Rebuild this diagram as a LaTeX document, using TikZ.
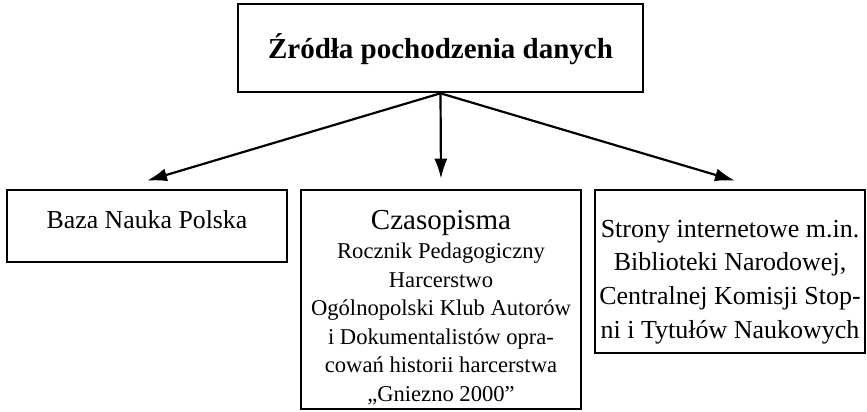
\documentclass[tikz,border=0pt]{standalone}
\usepackage{fontspec}
\setmainfont{Liberation Serif}
\usetikzlibrary{arrows.meta}

\begin{document}
\begin{tikzpicture}[x=0.5pt,y=-0.5pt,
  box/.style={draw,line width=1.3pt,inner sep=0pt,align=center},
  arr/.style={line width=1.1pt,-{Latex[length=10pt,width=6.5pt]}}]
  \useasboundingbox (0,0) rectangle (867,412);
  \node[box,minimum width=202.5pt,minimum height=44pt,font=\fontsize{14.5}{17}\selectfont\bfseries] (zrodla) at (440.5,48) {\rule{0pt}{14pt}Źródła pochodzenia danych};
  \node[box,minimum width=140pt,minimum height=36pt,font=\fontsize{12.9}{16}\selectfont] (baza) at (147,226) {\rule[-6pt]{0pt}{6pt}Baza Nauka Polska};
  \node[box,minimum width=140pt,minimum height=109.5pt,font=\fontsize{11.3}{14.3}\selectfont] (czas) at (441,299.5) {{\fontsize{14.5}{15}\selectfont\rule{0pt}{18pt}Czasopisma}\\Rocznik Pedagogiczny\\Harcerstwo\\Ogólnopolski Klub Autorów\\i Dokumentalistów opra-\\cowań historii harcerstwa\\„Gniezno 2000”};
  \node[box,minimum width=135pt,minimum height=81.5pt,font=\fontsize{13}{16.8}\selectfont] (strony) at (730,271.5) {\rule{0pt}{19pt}Strony internetowe m.in.\\Biblioteki Narodowej,\\Centralnej Komisji Stop-\\ni i Tytułów Naukowych};
  \draw[arr] (zrodla.south) -- ([yshift=4pt]baza.north);
  \draw[arr] (zrodla.south) -- ([yshift=5pt]czas.north);
  \draw[arr] (zrodla.south) -- ([xshift=2.5pt,yshift=4pt]strony.north);
\end{tikzpicture}
\end{document}
